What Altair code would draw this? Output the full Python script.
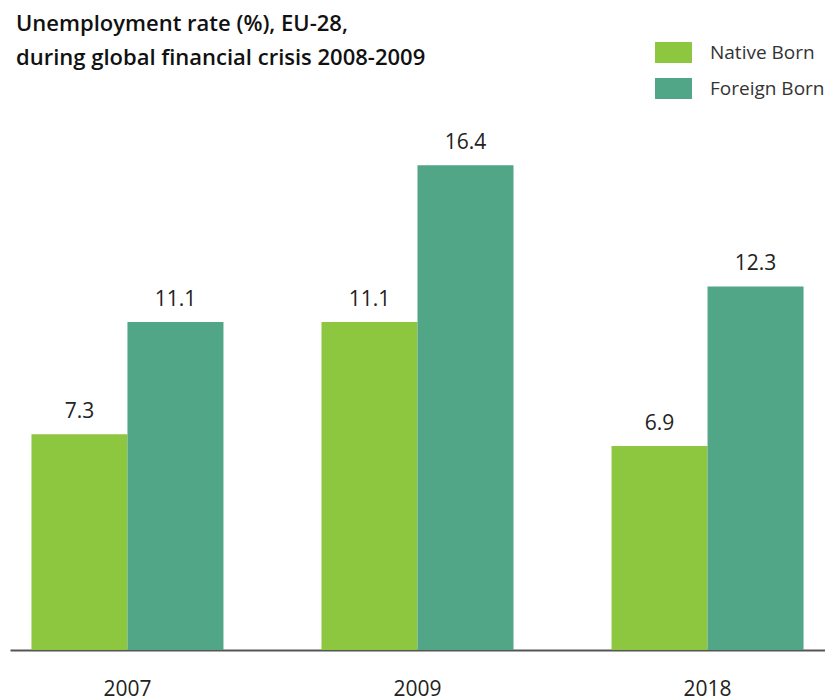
import altair as alt
import pandas as pd

years = ["2007", "2009", "2018"]
groups = ["Native Born", "Foreign Born"]
native = [7.3, 11.1, 6.9]
foreign = [11.1, 16.4, 12.3]
colors = ["#8DC63F", "#50A687"]
title_lines = ["Unemployment rate (%), EU-28,", "during global financial crisis 2008-2009"]

rows = []
for i, y in enumerate(years):
    rows.append({"year": y, "group": groups[0], "value": native[i]})
    rows.append({"year": y, "group": groups[1], "value": foreign[i]})
df = pd.DataFrame(rows)

FONT = "Open Sans"

x = alt.X("year:N", sort=years, title=None,
          scale=alt.Scale(paddingInner=0.338, paddingOuter=0.074, align=0.5),
          axis=alt.Axis(labelAngle=0, ticks=False, domainColor="#555555", domainWidth=2,
                        labelFont=FONT, labelFontSize=21, labelColor="#222222",
                        labelPadding=28, grid=False))
xo = alt.XOffset("group:N", sort=groups, scale=alt.Scale(paddingInner=0, paddingOuter=0))
y = alt.Y("value:Q", scale=alt.Scale(domain=[0, 18], nice=False), axis=None)

base = alt.Chart(df).encode(x=x, xOffset=xo, y=y)

bars = base.mark_bar().encode(
    color=alt.Color("group:N", sort=groups,
                    scale=alt.Scale(domain=groups, range=colors),
                    legend=alt.Legend(title=None, orient="none", legendX=653, legendY=-76,
                                      symbolType="M-1.76,-1L1.76,-1L1.76,1L-1.76,1Z",
                                      symbolSize=441, symbolStrokeWidth=0, symbolOpacity=1,
                                      labelFont=FONT, labelFontSize=19, labelColor="#333333",
                                      labelOffset=26, rowPadding=15, padding=0))
)

labels = base.mark_text(dy=-22, fontSize=21, font=FONT, fontWeight=500, color="#222222").encode(
    text=alt.Text("value:Q", format=".1f")
)

chart = alt.layer(bars, labels).properties(
    width=815, height=532,
    autosize=alt.AutoSizeParams(type="none"),
    padding={"left": 2, "top": 110, "right": 0, "bottom": 50},
    title=alt.Title(text=title_lines, anchor="start", frame="group", orient="top",
                    font=FONT, fontSize=22, fontWeight=600, color="#111111",
                    lineHeight=34, dx=6, dy=50, offset=0, baseline="bottom"),
).configure_view(stroke=None)

chart.save("out.html", embed_options={"renderer": "svg", "actions": False})
